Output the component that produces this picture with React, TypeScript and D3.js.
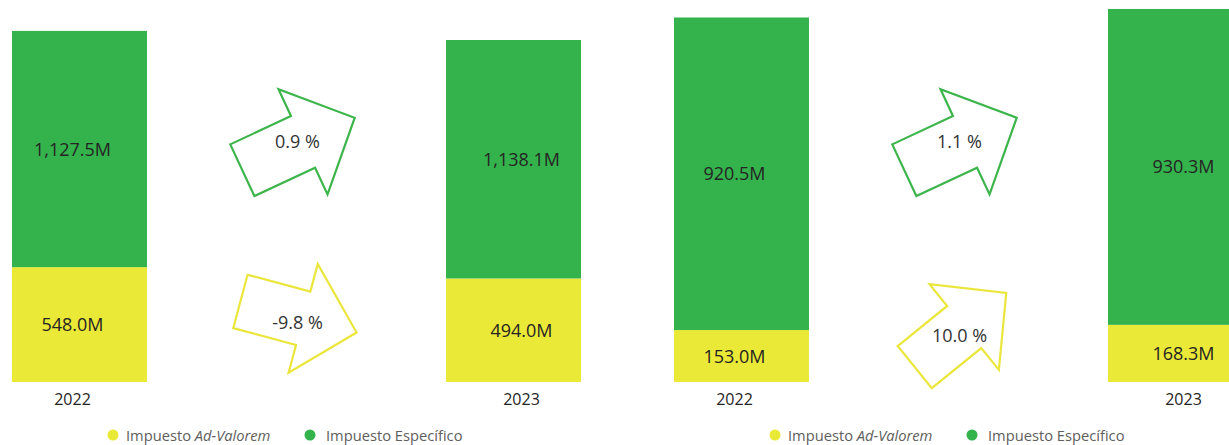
import React from "react";
import * as d3 from "d3";

// ---- data ----
const years = ["2022", "2023"];
const adValoremA = [548.0, 494.0];
const especificoA = [1127.5, 1138.1];
const adValoremB = [153.0, 168.3];
const especificoB = [920.5, 930.3];
const pctEspecifico = [0.9, 1.1];
const pctAdValorem = [-9.8, 10.0];
const angleEspecifico = [-25, -25];
const angleAdValorem = [15, -39];
const axisMax = [1823, 1125];
const legendLabels = ["Impuesto ", "Ad-Valorem", "Impuesto Específico"];

const GREEN = "#34B34D";
const YELLOW = "#EBE938";
const GREEN_LINE = "#3CB54B";
const YELLOW_LINE = "#EAE63C";
const FONT = "'Segoe UI', 'Open Sans', sans-serif";

const W = 1229;
const H = 445;
const baseY = 382;
const panelOffset = 662;
const labelShift = [-7, 8];

const arrowPts: [number, number][] = [
  [-62, -28.5],
  [5, -28.5],
  [5, -58],
  [62, 0],
  [5, 58],
  [5, 28.5],
  [-62, 28.5],
];

function arrowPath(cx: number, cy: number, angleDeg: number, s: number) {
  const a = (angleDeg * Math.PI) / 180;
  const c = Math.cos(a);
  const sn = Math.sin(a);
  const pts = arrowPts.map(([x, y]) => [cx + s * (x * c - y * sn), cy + s * (x * sn + y * c)] as [number, number]);
  return d3.line()(pts.concat([pts[0]])) + "Z";
}

const locale = d3.formatLocale({ decimal: ".", thousands: ",", grouping: [3], currency: ["$", ""], minus: "-" });
const fmtVal = (v: number) => locale.format(",.1f")(v) + "M";
const fmtPct = (v: number) => locale.format(".1f")(v) + " %";

function Panel({ idx, ad, esp }: { idx: number; ad: number[]; esp: number[] }) {
  const x0 = 12 + idx * panelOffset;
  const x = d3.scaleBand<string>().domain(years).range([x0, x0 + 569]).paddingInner(0.689).paddingOuter(0);
  const y = d3.scaleLinear().domain([0, axisMax[idx]]).range([baseY, 0]);
  const bw = x.bandwidth();
  const stack = d3
    .stack<any>()
    .keys(["ad", "esp"])(years.map((yr, i) => ({ year: yr, ad: ad[i], esp: esp[i] })));

  const b0 = x(years[0])! + bw;
  const b1 = x(years[1])!;
  const acx = (b0 + b1) / 2 + 2;
  const greenY = 144;
  const yellowY = idx === 0 ? 317 : 330;
  const arrowScale = idx === 0 ? [1, 0.97] : [1, 0.95];

  const legendX = 113 + idx * panelOffset;

  return (
    <g>
      {stack.map((layer, li) =>
        layer.map((d, i) => {
          const yt = y(d[1]);
          const yb = y(d[0]);
          const cx = x(years[i])! + bw / 2 + labelShift[i];
          return (
            <g key={`${li}-${i}`}>
              <rect x={x(years[i])} y={yt} width={bw} height={yb - yt} fill={li === 0 ? YELLOW : GREEN} />
              <text
                x={cx}
                y={(yt + yb) / 2 + 6.5}
                textAnchor="middle"
                fontSize={18}
                fill="#252423"
                fontFamily={FONT}
              >
                {fmtVal(d[1] - d[0])}
              </text>
            </g>
          );
        })
      )}
      {years.map((yr, i) => (
        <text
          key={yr}
          x={x(yr)! + bw / 2 + labelShift[i]}
          y={405}
          textAnchor="middle"
          fontSize={16}
          fill="#252423"
          fontFamily={FONT}
        >
          {yr}
        </text>
      ))}
      <path d={arrowPath(acx, greenY, angleEspecifico[idx], arrowScale[0])} fill="white" stroke={GREEN_LINE} strokeWidth={2.2} strokeLinejoin="miter" />
      <text x={acx - 1} y={greenY + 4} textAnchor="middle" fontSize={18} fill="#333" fontFamily={FONT}>
        {fmtPct(pctEspecifico[idx])}
      </text>
      <path d={arrowPath(acx, yellowY, angleAdValorem[idx], arrowScale[1])} fill="white" stroke={YELLOW_LINE} strokeWidth={2.2} strokeLinejoin="miter" />
      <text x={acx - 1} y={yellowY + 12} textAnchor="middle" fontSize={18} fill="#333" fontFamily={FONT}>
        {fmtPct(pctAdValorem[idx])}
      </text>
      <circle cx={legendX} cy={435} r={5.5} fill={YELLOW} />
      <text x={legendX + 13} y={441} fontSize={14.7} fill="#605E5C" fontFamily={FONT}>
        {legendLabels[0]}
        <tspan fontStyle="italic">{legendLabels[1]}</tspan>
      </text>
      <circle cx={legendX + 197} cy={435} r={5.5} fill={GREEN} />
      <text x={legendX + 213} y={441} fontSize={14.7} fill="#605E5C" fontFamily={FONT}>
        {legendLabels[2]}
      </text>
    </g>
  );
}

export default function App() {
  return (
    <svg
      width={W}
      height={H}
      viewBox={`0 0 ${W} ${H}`}
      style={{ position: "absolute", left: 0, top: 0, background: "white" }}
    >
      <rect x={0} y={0} width={W} height={H} fill="white" />
      <Panel idx={0} ad={adValoremA} esp={especificoA} />
      <Panel idx={1} ad={adValoremB} esp={especificoB} />
    </svg>
  );
}
